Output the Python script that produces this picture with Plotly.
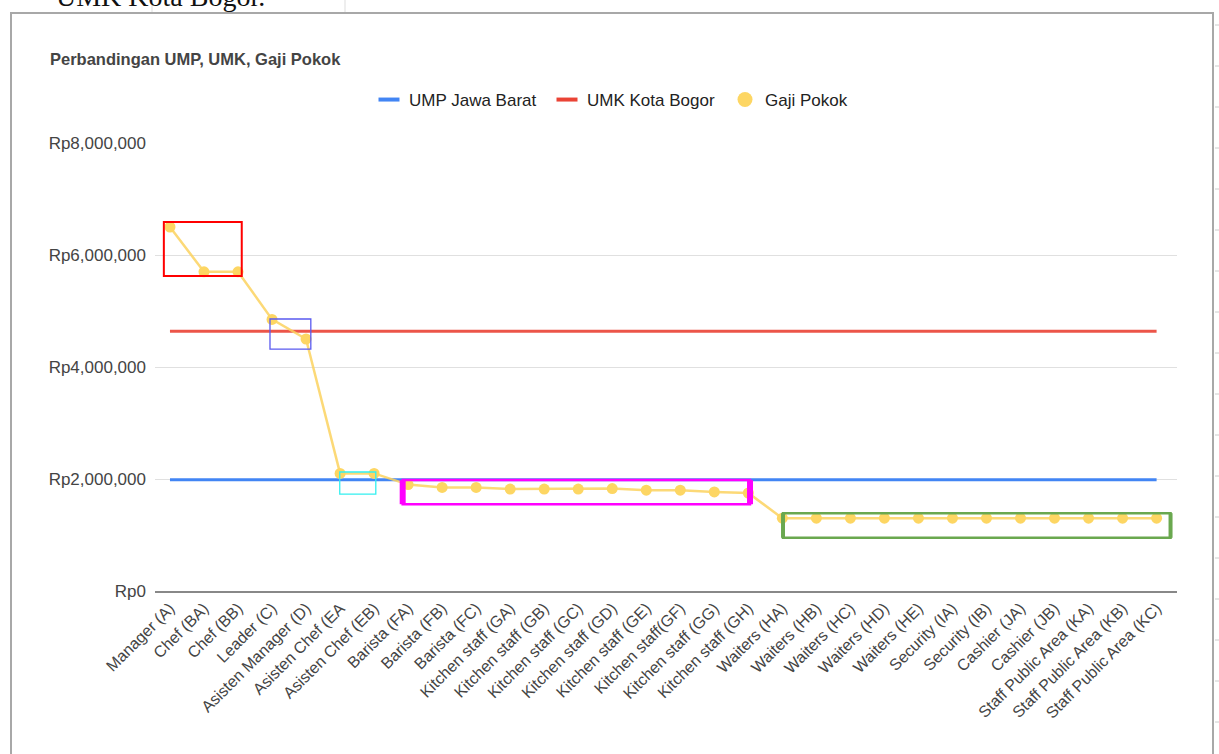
import plotly.graph_objects as go

categories = [
    "Manager (A)", "Chef (BA)", "Chef (BB)", "Leader (C)", "Asisten Manager (D)",
    "Asisten Chef (EA", "Asisten Chef (EB)", "Barista (FA)", "Barista (FB)", "Barista (FC)",
    "Kitchen staff (GA)", "Kitchen staff (GB)", "Kitchen staff (GC)", "Kitchen staff (GD)",
    "Kitchen staff (GE)", "Kitchen staff(GF)", "Kitchen staff (GG)", "Kitchen staff (GH)",
    "Waiters (HA)", "Waiters (HB)", "Waiters (HC)", "Waiters (HD)", "Waiters (HE)",
    "Security (IA)", "Security (IB)", "Cashier (JA)", "Cashier (JB)",
    "Staff Public Area (KA)", "Staff Public Area (KB)", "Staff Public Area (KC)",
]
gaji_pokok = [
    6500000, 5700000, 5700000, 4850000, 4500000,
    2100000, 2100000, 1900000, 1850000, 1850000,
    1820000, 1820000, 1820000, 1830000, 1800000, 1800000, 1770000, 1750000,
    1300000, 1300000, 1300000, 1300000, 1300000,
    1300000, 1300000, 1300000, 1300000, 1300000, 1300000, 1300000,
]
ump_jawa_barat = [1986670] * len(categories)
umk_kota_bogor = [4639429] * len(categories)
y_tickvals = [0, 2000000, 4000000, 6000000, 8000000]
y_ticktext = ["Rp0", "Rp2,000,000", "Rp4,000,000", "Rp6,000,000", "Rp8,000,000"]

# highlight boxes: (cat_start, cat_end, y_low, y_high, color, width, side_width)
highlights = [
    (-0.18, 2.11, 5625000, 6590000, "#ff0000", 2, 0),
    (2.94, 4.14, 4320000, 4857000, "#5a5af0", 1.3, 0),
    (4.99, 6.05, 1730000, 2125000, "#33f0f0", 1.3, 0),
    (6.84, 17.05, 1550000, 1980000, "#ff00ff", 2.5, 6),
    (18.02, 29.41, 950000, 1390000, "#6aa84f", 2.5, 4),
]

W, H = 1219, 754
L, R, T, B = 155, 1177, 143, 591


def px_x(p):
    return (p - L) / (R - L)


def px_y(p):
    return (B - p) / (B - T)


font_main = "Liberation Sans, Arial, sans-serif"
fig = go.Figure()

fig.add_trace(go.Scatter(x=categories, y=ump_jawa_barat, mode="lines",
                         line=dict(color="#4285f4", width=3), showlegend=False,
                         hoverinfo="skip"))
fig.add_trace(go.Scatter(x=categories, y=umk_kota_bogor, mode="lines",
                         line=dict(color="rgba(234,67,53,0.9)", width=3), showlegend=False,
                         hoverinfo="skip"))
fig.add_trace(go.Scatter(x=categories, y=gaji_pokok, mode="lines+markers",
                         line=dict(color="rgba(252,210,95,0.85)", width=2.5),
                         marker=dict(color="#fdd663", size=11),
                         showlegend=False))

# legend entries
fig.add_trace(go.Scatter(x=[None], y=[None], mode="markers", name="UMP Jawa Barat",
                         marker=dict(symbol="line-ew", size=15,
                                     line=dict(color="#4285f4", width=4))))
fig.add_trace(go.Scatter(x=[None], y=[None], mode="markers", name="UMK Kota Bogor",
                         marker=dict(symbol="line-ew", size=15,
                                     line=dict(color="#ea4335", width=4))))
fig.add_trace(go.Scatter(x=[None], y=[None], mode="markers", name="Gaji Pokok",
                         marker=dict(color="#fdd663", size=15)))

shapes = []
for x0, x1, y0, y1, col, w, sw in highlights:
    shapes.append(dict(type="rect", xref="x", yref="y", x0=x0, x1=x1, y0=y0, y1=y1,
                       line=dict(color=col, width=w), fillcolor="rgba(0,0,0,0)"))
    if sw:
        for xx in (x0, x1):
            shapes.append(dict(type="line", xref="x", yref="y", x0=xx, x1=xx, y0=y0, y1=y1,
                               line=dict(color=col, width=sw)))

# document frame around chart
shapes.append(dict(type="rect", xref="paper", yref="paper",
                   x0=px_x(11), x1=px_x(1213), y0=px_y(13), y1=px_y(760),
                   line=dict(color="#a8a8a8", width=2), layer="below"))
for xx in (152, 345):
    shapes.append(dict(type="line", xref="paper", yref="paper",
                       x0=px_x(xx), x1=px_x(xx), y0=px_y(0), y1=px_y(12),
                       line=dict(color="#dddddd", width=1)))
for yy in range(25, 754, 41):
    shapes.append(dict(type="line", xref="paper", yref="paper",
                       x0=px_x(1215), x1=px_x(1219), y0=px_y(yy), y1=px_y(yy),
                       line=dict(color="#cccccc", width=1)))

fig.update_layout(
    width=W, height=H,
    margin=dict(l=L, r=W - R, t=T, b=H - B, pad=0),
    paper_bgcolor="white", plot_bgcolor="white",
    font=dict(family=font_main, size=13, color="#444444"),
    showlegend=True,
    legend=dict(orientation="h", x=px_x(369), xanchor="left", y=px_y(100), yanchor="middle",
                font=dict(family=font_main, size=17, color="#222222"),
                itemwidth=30, entrywidth=133, bgcolor="rgba(0,0,0,0)",
                itemclick=False),
    xaxis=dict(type="category", range=[-0.44, 29.6], showgrid=False, zeroline=False,
               showline=True, linecolor="#888888", linewidth=1.5, ticks="",
               tickangle=-45, tickfont=dict(family=font_main, size=16, color="#444444")),
    yaxis=dict(range=[0, 8000000], tickvals=y_tickvals, ticktext=y_ticktext,
               showgrid=True, gridcolor="#e0e0e0", gridwidth=1, zeroline=False,
               showline=False, ticks="", ticklabelstandoff=8,
               tickfont=dict(family=font_main, size=17, color="#444444")),
    shapes=shapes,
    annotations=[
        dict(text="<b>Perbandingan UMP, UMK, Gaji Pokok</b>", xref="paper", yref="paper",
             x=px_x(48), y=px_y(59), xanchor="left", yanchor="middle", showarrow=False,
             font=dict(family=font_main, size=16.5, color="#444444")),
        dict(text="UMK Kota Bogor.", xref="paper", yref="paper",
             x=px_x(54), y=px_y(-3), xanchor="left", yanchor="middle", showarrow=False,
             font=dict(family="Liberation Serif, DejaVu Serif, serif", size=28, color="#111111")),
    ],
)

fig.write_html("out.html")
